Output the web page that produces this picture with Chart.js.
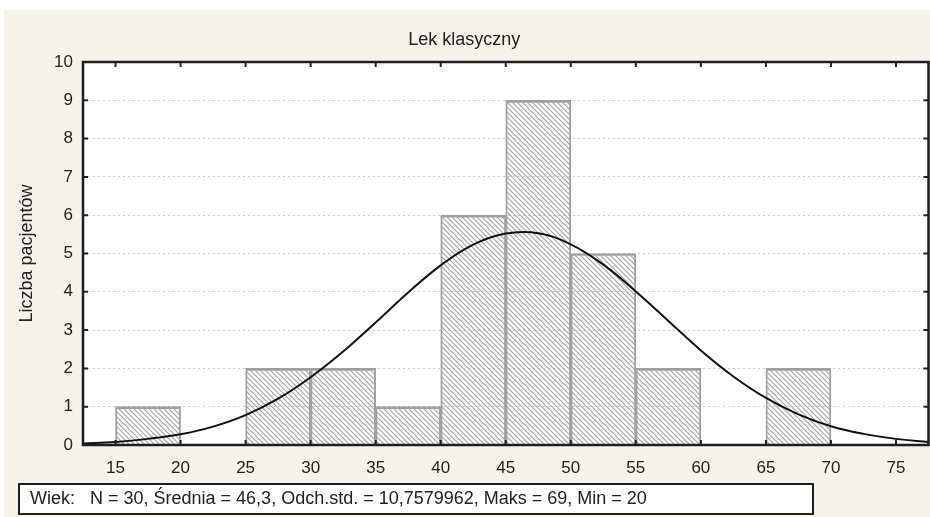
<!DOCTYPE html>
<html>
<head>
<meta charset="utf-8">
<script src="https://cdn.jsdelivr.net/npm/chart.js@4.4.1/dist/chart.umd.min.js"></script>
<style>
  html, body { margin: 0; padding: 0; background: #fff; }
  #wrap { width: 930px; height: 517px; position: relative; }
</style>
</head>
<body>
<div id="wrap"><canvas id="histChart" width="930" height="517"></canvas></div>
<script>
// histogram bins (lower edge) and counts
const binStarts = [15, 20, 25, 30, 35, 40, 45, 50, 55, 60, 65];
const binCounts = [1, 0, 2, 2, 1, 6, 9, 5, 2, 0, 2];
const binWidth = 5;

// fitted normal curve
const curveX = [12.5, 15, 17.5, 20, 22.5, 25, 27.5, 30, 32.5, 35, 37.5, 40, 42.5, 45,
                47.5, 50, 52.5, 55, 57.5, 60, 62.5, 65, 67.5, 70, 72.5, 75, 77.5];
const curveY = [0.04, 0.08, 0.16, 0.28, 0.48, 0.78, 1.21, 1.77, 2.44, 3.2, 3.98, 4.69, 5.23, 5.52,
                5.53, 5.24, 4.71, 4.01, 3.24, 2.47, 1.79, 1.23, 0.8, 0.49, 0.29, 0.16, 0.08];

const xTickValues = [15, 20, 25, 30, 35, 40, 45, 50, 55, 60, 65, 70, 75];
const yTickValues = [0, 1, 2, 3, 4, 5, 6, 7, 8, 9, 10];

const chartTitle = "Lek klasyczny";
const yAxisTitle = "Liczba pacjentów";
const summaryText = "Wiek:   N = 30, Średnia = 46,3, Odch.std. = 10,7579962, Maks = 69, Min = 20";

const FONT = 'Arial, "Liberation Sans", sans-serif';

function makeHatch() {
    const c = document.createElement("canvas");
    c.width = 5;
    c.height = 5;
    const g = c.getContext("2d");
    g.strokeStyle = "#a6a6a6";
    g.lineWidth = 1.2;
    g.beginPath();
    g.moveTo(-1, -1); g.lineTo(6, 6);
    g.moveTo(-1, 4); g.lineTo(1, 6);
    g.moveTo(4, -1); g.lineTo(6, 1);
    g.stroke();
    return g.createPattern(c, "repeat");
}

const framePlugin = {
    id: "frame",
    beforeDraw(chart) {
        const ctx = chart.ctx;
        const a = chart.chartArea;
        ctx.save();
        ctx.fillStyle = "#f6f3ed";
        ctx.fillRect(4, 10, 926, 507);
        ctx.fillStyle = "#ffffff";
        ctx.fillRect(a.left, a.top, a.right - a.left, a.bottom - a.top);
        ctx.restore();
    },
    afterDraw(chart) {
        const ctx = chart.ctx;
        const a = chart.chartArea;
        const x = chart.scales.x, y = chart.scales.y;
        ctx.save();

        // inward tick marks on all four sides
        ctx.strokeStyle = "#222";
        ctx.lineWidth = 2;
        ctx.beginPath();
        xTickValues.forEach(v => {
            const px = x.getPixelForValue(v);
            ctx.moveTo(px, a.top); ctx.lineTo(px, a.top + 5);
            ctx.moveTo(px, a.bottom); ctx.lineTo(px, a.bottom - 5);
        });
        yTickValues.forEach(v => {
            const py = y.getPixelForValue(v);
            ctx.moveTo(a.left, py); ctx.lineTo(a.left + 5, py);
            ctx.moveTo(a.right, py); ctx.lineTo(a.right - 5, py);
        });
        ctx.stroke();

        ctx.strokeStyle = "#1e1e1e";
        ctx.lineWidth = 2.5;
        ctx.strokeRect(a.left, a.top, a.right - a.left, a.bottom - a.top);

        // summary box under the axis
        ctx.fillStyle = "#ffffff";
        ctx.fillRect(19, 484, 794, 30);
        ctx.strokeStyle = "#1e1e1e";
        ctx.lineWidth = 2;
        ctx.strokeRect(19, 484, 794, 30);
        ctx.fillStyle = "#222";
        ctx.font = "18px " + FONT;
        ctx.textBaseline = "middle";
        ctx.fillText(summaryText, 30, 499);
        ctx.restore();
    }
};

const ctx = document.getElementById("histChart").getContext("2d");

new Chart(ctx, {
    type: "bar",
    data: {
        datasets: [
            {
                type: "line",
                data: curveX.map((v, i) => ({ x: v, y: curveY[i] })),
                borderColor: "#111",
                borderWidth: 2,
                pointRadius: 0,
                tension: 0.4,
                order: 1
            },
            {
                type: "bar",
                data: binStarts.map((s, i) => ({ x: s + binWidth / 2, y: binCounts[i] || null })),
                backgroundColor: makeHatch(),
                borderColor: "#a0a0a0",
                borderWidth: { top: 2, left: 1.3, right: 1.3, bottom: 0 },
                borderSkipped: false,
                barPercentage: 1,
                categoryPercentage: 1,
                order: 2
            }
        ]
    },
    options: {
        responsive: false,
        devicePixelRatio: 1,
        animation: false,
        layout: { padding: { left: 0, right: 1.5, top: 0, bottom: 0 } },
        plugins: {
            legend: { display: false },
            tooltip: { enabled: false },
            title: {
                display: true,
                text: chartTitle,
                color: "#222",
                font: { family: FONT, size: 18, weight: "normal" },
                padding: { top: 29, bottom: 11.4 }
            }
        },
        scales: {
            x: {
                type: "linear",
                min: 12.5,
                max: 77.5,
                offset: false,
                grid: { display: false, offset: false, drawTicks: false },
                border: { display: false },
                afterBuildTicks: s => { s.ticks = xTickValues.map(v => ({ value: v })); },
                afterFit: s => { s.height = 72; },
                ticks: {
                    color: "#222",
                    font: { family: FONT, size: 17 },
                    padding: 13,
                    maxRotation: 0,
                    autoSkip: false
                }
            },
            y: {
                min: 0,
                max: 10,
                grid: { color: "#c9c9c9", lineWidth: 1, drawTicks: false },
                border: { display: false, dash: [2, 3] },
                afterBuildTicks: s => { s.ticks = yTickValues.map(v => ({ value: v })); },
                afterFit: s => { s.width = 83; },
                ticks: {
                    color: "#222",
                    font: { family: FONT, size: 17 },
                    padding: 10
                },
                title: {
                    display: true,
                    text: yAxisTitle,
                    color: "#222",
                    font: { family: FONT, size: 18 },
                    padding: { top: 16, bottom: 0 }
                }
            }
        }
    },
    plugins: [framePlugin]
});
</script>
</body>
</html>
